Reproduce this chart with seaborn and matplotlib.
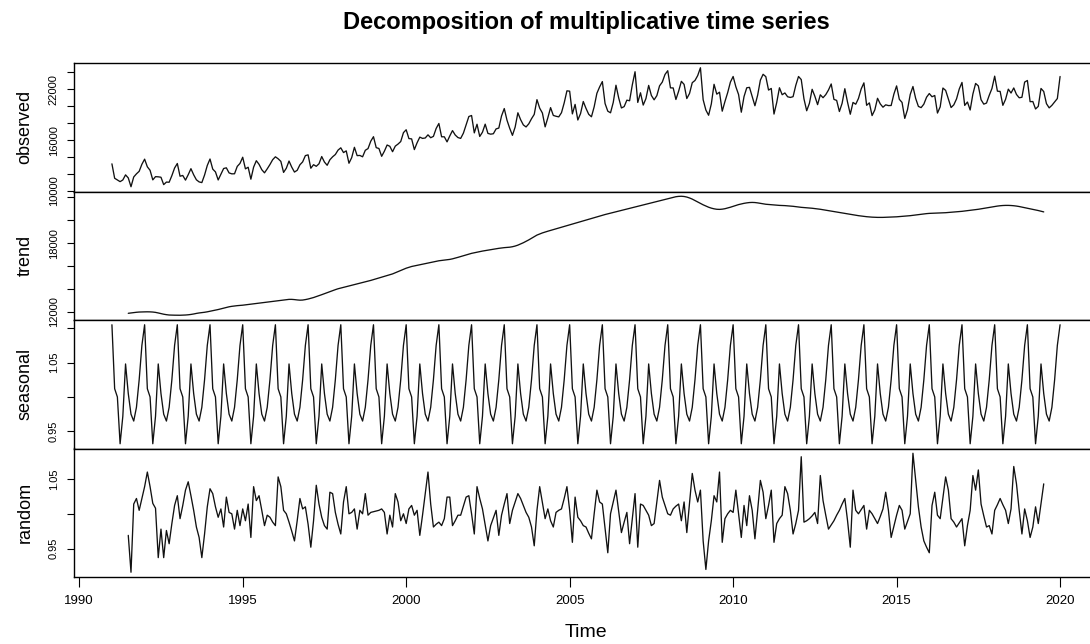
import numpy as np
import pandas as pd
import matplotlib
matplotlib.use("Agg")
import matplotlib.pyplot as plt
import seaborn as sns

# ---------------- data (monthly) ----------------
series_start = 1991.0          # observed / seasonal start (Jan 1991)
trend_start = 1991.5           # trend / random start (Jul 1991)

observed = [
    13200, 11500, 11300, 11100, 11300, 11900, 11540, 10500, 11650, 12020, 12320, 13150,  # 1991
    13750, 12850, 12440, 11310, 11690, 11670, 11620, 10750, 11050, 11030, 11810, 12710,  # 1992
    13240, 11740, 11830, 11280, 11920, 12630, 11910, 11320, 11070, 10990, 11880, 13010,  # 1993
    13770, 12580, 12250, 11300, 11980, 12650, 12730, 12130, 12020, 12030, 12900, 13250,  # 1994
    13980, 12610, 12800, 11390, 12810, 13570, 13140, 12510, 12140, 12610, 13120, 13690,  # 1995
    14030, 13800, 13490, 12190, 12680, 13530, 12810, 12230, 12440, 13090, 13430, 14170,  # 1996
    14260, 12680, 13100, 12910, 13210, 14060, 13410, 13030, 13680, 14030, 14300, 14820,  # 1997
    15090, 14530, 14730, 13270, 13930, 15150, 14170, 14190, 14030, 14800, 15000, 15870,  # 1998
    16400, 15110, 15010, 14090, 14690, 15420, 15270, 14630, 15290, 15530, 15830, 16880,  # 1999
    17220, 16180, 16140, 14880, 15680, 16350, 16200, 16250, 16620, 16280, 16440, 17370,  # 2000
    17960, 16390, 16390, 15790, 16490, 17120, 16600, 16300, 16200, 16820, 17800, 18780,  # 2001
    18900, 16850, 17870, 16430, 16930, 17880, 16790, 16700, 16750, 17320, 17420, 18850,  # 2002
    19720, 18350, 17390, 16560, 17540, 19220, 18410, 17790, 17550, 17920, 18520, 19030,  # 2003
    20770, 19770, 19190, 17560, 18640, 19830, 18910, 18810, 18740, 19230, 20390, 21810,  # 2004
    21770, 19090, 20210, 18370, 19130, 20550, 19740, 19040, 18750, 19930, 21520, 22270,  # 2005
    22900, 20310, 19410, 19220, 20440, 22470, 20970, 19790, 19950, 20710, 20640, 22520,  # 2006
    24060, 20440, 21580, 20130, 20900, 22450, 21260, 20750, 21240, 22400, 22840, 23740,  # 2007
    24180, 22160, 22150, 20790, 21770, 22930, 22570, 20900, 21500, 22770, 23030, 23610,  # 2008
    24530, 20760, 19540, 18930, 20270, 22580, 21420, 21650, 19410, 20550, 21600, 22840,  # 2009
    23500, 22290, 21370, 19290, 21130, 22170, 22220, 21130, 20050, 21300, 23070, 23760,  # 2010
    23480, 21900, 22090, 19070, 20430, 22170, 21350, 21560, 21110, 21030, 21120, 22460,  # 2011
    23500, 23140, 20860, 19460, 20340, 21990, 21170, 20180, 21340, 21000, 21360, 21910,  # 2012
    22620, 20800, 20680, 19370, 20340, 22060, 20460, 19050, 20440, 20230, 20910, 22030,  # 2013
    22750, 20100, 20390, 18890, 19560, 20930, 20270, 19880, 20160, 20070, 20080, 21420,  # 2014
    22390, 20810, 20440, 18560, 19590, 21380, 22320, 20910, 19970, 19830, 20240, 21060,  # 2015
    21490, 21110, 21260, 19190, 19920, 22140, 21860, 20850, 19840, 20160, 20860, 22030,  # 2016
    22800, 20090, 20490, 19550, 21430, 22680, 22390, 20760, 20240, 20370, 21280, 22090,  # 2017
    23540, 21770, 21740, 20100, 20810, 22010, 21550, 22150, 21380, 20990, 21050, 22840,  # 2018
    23030, 20530, 20550, 19670, 19980, 22090, 21730, 20300, 19800, 20100, 20500, 20900,  # 2019
    23500,                                                                              # 2020
]

trend = [
    11850, 11880, 11910, 11940, 11960, 11970,                                             # 1991 Jul-Dec
    11975, 11980, 11975, 11960, 11930, 11880, 11820, 11770, 11730, 11700, 11690, 11685,  # 1992
    11680, 11680, 11690, 11700, 11720, 11750, 11790, 11840, 11880, 11910, 11940, 11980,  # 1993
    12030, 12080, 12130, 12180, 12240, 12300, 12370, 12420, 12460, 12490, 12520, 12540,  # 1994
    12560, 12590, 12620, 12650, 12680, 12710, 12740, 12770, 12800, 12830, 12860, 12890,  # 1995
    12920, 12950, 12980, 13010, 13040, 13070, 13070, 13050, 13020, 13000, 13010, 13050,  # 1996
    13100, 13160, 13230, 13310, 13400, 13480, 13570, 13660, 13750, 13840, 13920, 14000,  # 1997
    14060, 14120, 14180, 14240, 14300, 14360, 14420, 14480, 14540, 14600, 14660, 14730,  # 1998
    14800, 14870, 14940, 15010, 15080, 15150, 15220, 15300, 15400, 15500, 15600, 15700,  # 1999
    15800, 15880, 15950, 16000, 16050, 16100, 16150, 16200, 16250, 16300, 16350, 16400,  # 2000
    16450, 16480, 16510, 16540, 16570, 16620, 16680, 16750, 16820, 16890, 16960, 17030,  # 2001
    17100, 17150, 17200, 17250, 17300, 17340, 17380, 17420, 17460, 17500, 17540, 17570,  # 2002
    17600, 17620, 17640, 17680, 17740, 17820, 17920, 18030, 18150, 18280, 18420, 18560,  # 2003
    18700, 18800, 18890, 18970, 19040, 19110, 19180, 19250, 19320, 19390, 19460, 19530,  # 2004
    19600, 19670, 19740, 19810, 19880, 19950, 20020, 20090, 20160, 20230, 20300, 20370,  # 2005
    20440, 20500, 20560, 20620, 20680, 20740, 20800, 20860, 20920, 20980, 21040, 21100,  # 2006
    21160, 21220, 21280, 21340, 21400, 21460, 21520, 21580, 21640, 21700, 21760, 21820,  # 2007
    21880, 21940, 22000, 22060, 22090, 22100, 22080, 22030, 21950, 21850, 21730, 21600,  # 2008
    21470, 21350, 21240, 21140, 21060, 21000, 20960, 20950, 20970, 21010, 21070, 21140,  # 2009
    21220, 21300, 21370, 21430, 21480, 21520, 21550, 21560, 21550, 21520, 21480, 21440,  # 2010
    21400, 21380, 21360, 21340, 21320, 21300, 21290, 21280, 21260, 21240, 21220, 21190,  # 2011
    21160, 21130, 21110, 21090, 21070, 21050, 21020, 20990, 20960, 20920, 20880, 20840,  # 2012
    20800, 20760, 20720, 20680, 20640, 20600, 20560, 20520, 20480, 20440, 20400, 20370,  # 2013
    20340, 20310, 20290, 20270, 20260, 20250, 20250, 20250, 20260, 20270, 20280, 20290,  # 2014
    20300, 20320, 20340, 20360, 20380, 20400, 20430, 20460, 20490, 20520, 20550, 20580,  # 2015
    20600, 20610, 20620, 20630, 20640, 20650, 20660, 20680, 20700, 20720, 20740, 20760,  # 2016
    20780, 20810, 20840, 20870, 20900, 20930, 20960, 21000, 21040, 21080, 21120, 21160,  # 2017
    21200, 21240, 21270, 21290, 21300, 21300, 21290, 21270, 21240, 21200, 21150, 21100,  # 2018
    21050, 21000, 20950, 20900, 20850, 20790, 20730,                                      # 2019 Jan-Jul
]

# seasonal figure, Jan..Dec (the seasonal component repeats it every year)
seasonal_figure = [1.105, 1.012, 1.000, 0.932, 0.972, 1.048,
                   1.005, 0.975, 0.965, 0.985, 1.025, 1.075]

random_comp = [
    0.969, 0.916, 1.014, 1.022, 1.005, 1.022,                                             # 1991 Jul-Dec
    1.039, 1.060, 1.039, 1.015, 1.008, 0.937, 0.978, 0.937, 0.976, 0.957, 0.986, 1.012,  # 1992
    1.026, 0.993, 1.012, 1.034, 1.046, 1.026, 1.005, 0.981, 0.966, 0.937, 0.971, 1.010,  # 1993
    1.036, 1.029, 1.010, 0.995, 1.007, 0.981, 1.024, 1.002, 1.000, 0.978, 1.005, 0.983,  # 1994
    1.007, 0.990, 1.014, 0.966, 1.039, 1.019, 1.026, 1.005, 0.983, 0.998, 0.995, 0.988,  # 1995
    0.983, 1.053, 1.039, 1.005, 1.000, 0.988, 0.975, 0.961, 0.990, 1.022, 1.007, 1.010,  # 1996
    0.985, 0.952, 0.990, 1.041, 1.014, 0.995, 0.983, 0.978, 1.031, 1.029, 1.002, 0.985,  # 1997
    0.971, 1.017, 1.039, 1.000, 1.002, 1.007, 0.978, 1.005, 1.000, 1.029, 0.998, 1.002,  # 1998
    1.003, 1.004, 1.005, 1.007, 1.002, 0.971, 0.998, 0.981, 1.029, 1.017, 0.990, 1.000,  # 1999
    0.986, 1.007, 1.012, 0.998, 1.005, 0.969, 0.998, 1.029, 1.060, 1.014, 0.981, 0.985,  # 2000
    0.988, 0.983, 0.993, 1.024, 1.024, 0.983, 0.990, 0.998, 0.998, 1.011, 1.024, 1.026,  # 2001
    1.000, 0.971, 1.039, 1.022, 1.007, 0.984, 0.961, 0.983, 0.994, 1.005, 0.969, 0.998,  # 2002
    1.014, 1.029, 0.986, 1.005, 1.017, 1.029, 1.022, 1.012, 1.002, 0.995, 0.981, 0.954,  # 2003
    1.005, 1.039, 1.016, 0.993, 1.007, 0.990, 0.981, 1.002, 1.005, 1.007, 1.022, 1.039,  # 2004
    1.005, 0.959, 1.024, 0.995, 0.990, 0.983, 0.981, 0.972, 0.964, 1.000, 1.034, 1.017,  # 2005
    1.014, 0.979, 0.944, 1.000, 1.017, 1.034, 1.003, 0.973, 0.988, 1.002, 0.957, 0.993,  # 2006
    1.029, 0.952, 1.014, 1.012, 1.005, 0.998, 0.983, 0.986, 1.017, 1.048, 1.024, 1.012,  # 2007
    1.000, 0.998, 1.007, 1.011, 1.014, 0.990, 1.017, 0.973, 1.015, 1.058, 1.034, 1.017,  # 2008
    1.034, 0.961, 0.920, 0.961, 0.990, 1.026, 1.017, 1.060, 0.959, 0.993, 1.000, 1.005,  # 2009
    1.002, 1.034, 1.000, 0.966, 1.012, 0.983, 1.026, 1.005, 0.964, 1.005, 1.048, 1.031,  # 2010
    0.993, 1.012, 1.034, 0.959, 0.986, 0.993, 0.998, 1.039, 1.029, 1.005, 0.971, 0.986,  # 2011
    1.005, 1.082, 0.988, 0.990, 0.993, 0.997, 1.002, 0.986, 1.055, 1.019, 0.998, 0.978,  # 2012
    0.984, 0.990, 0.998, 1.005, 1.014, 1.022, 0.990, 0.952, 1.034, 1.005, 1.000, 1.006,  # 2013
    1.012, 0.978, 1.005, 1.000, 0.993, 0.986, 0.996, 1.007, 1.031, 1.005, 0.966, 0.982,  # 2014
    0.998, 1.012, 1.005, 0.978, 0.989, 1.000, 1.087, 1.048, 1.010, 0.981, 0.961, 0.952,  # 2015
    0.944, 1.012, 1.031, 0.998, 0.993, 1.023, 1.053, 1.034, 0.993, 0.988, 0.981, 0.987,  # 2016
    0.993, 0.954, 0.983, 1.005, 1.055, 1.034, 1.063, 1.014, 0.997, 0.981, 0.983, 0.971,  # 2017
    1.005, 1.013, 1.022, 1.013, 1.005, 0.986, 1.007, 1.068, 1.043, 1.005, 0.971, 1.007,  # 2018
    0.990, 0.966, 0.981, 1.010, 0.986, 1.014, 1.043,                                      # 2019 Jan-Jul
]

panel_names = ["observed", "trend", "seasonal", "random"]
obs_ticks = [10000, 12000, 14000, 16000, 18000, 20000, 22000, 24000]
obs_labels = ["10000", "", "", "16000", "", "", "22000", ""]
trend_ticks = [12000, 14000, 16000, 18000, 20000, 22000]
trend_labels = ["12000", "", "", "18000", "", ""]
seas_ticks = [0.95, 1.00, 1.05, 1.10]
seas_labels = ["0.95", "", "1.05", ""]
rand_ticks = [0.95, 1.00, 1.05]
rand_labels = ["0.95", "", "1.05"]
year_ticks = [1990, 1995, 2000, 2005, 2010, 2015, 2020]
title_text = "Decomposition of multiplicative time series"
x_title = "Time"

# ---------------- frames ----------------
t_obs = series_start + np.arange(len(observed)) / 12.0
t_mid = trend_start + np.arange(len(trend)) / 12.0
seasonal = np.tile(seasonal_figure, len(observed) // 12 + 1)[:len(observed)]

frames = [
    pd.DataFrame({"Time": t_obs, "value": observed}),
    pd.DataFrame({"Time": t_mid, "value": trend}),
    pd.DataFrame({"Time": t_obs, "value": seasonal}),
    pd.DataFrame({"Time": t_mid, "value": random_comp}),
]
tick_sets = [(obs_ticks, obs_labels), (trend_ticks, trend_labels),
             (seas_ticks, seas_labels), (rand_ticks, rand_labels)]

# ---------------- style ----------------
sns.set_style("ticks")
plt.rcParams["font.family"] = ["Liberation Sans", "DejaVu Sans"]

W, H = 1090, 644
fig = plt.figure(figsize=(W / 100, H / 100), dpi=100)
fig.patch.set_facecolor("white")

left_px, right_px = 74, 1098
top_px, bottom_px = 63, 577
ph = (bottom_px - top_px) / 4.0

for i, (name, df, (ticks, labels)) in enumerate(zip(panel_names, frames, tick_sets)):
    y0 = 1 - (top_px + (i + 1) * ph) / H
    ax = fig.add_axes([left_px / W, y0, (right_px - left_px) / W, ph / H])
    sns.lineplot(data=df, x="Time", y="value", ax=ax, color="#111111",
                 linewidth=0.95, estimator=None)
    lo, hi = float(np.min(df["value"])), float(np.max(df["value"]))
    pad = 0.04 * (hi - lo)
    ax.set_ylim(lo - pad, hi + pad)
    ax.set_xlim(1989.84, 2021.16)
    ax.set_yticks(ticks)
    ax.set_yticklabels(labels, fontsize=8, rotation=90, va="center")
    ax.tick_params(axis="y", direction="out", length=5, width=0.8,
                   colors="black", pad=6)
    for sp in ax.spines.values():
        sp.set_color("black")
        sp.set_linewidth(1.0)
        sp.set_visible(True)
    ax.set_ylabel(name, fontsize=13, color="black")
    ax.yaxis.set_label_coords(-0.048, 0.5)
    ax.yaxis.label.set_va("center")
    if i < 3:
        ax.set_xticks([])
        ax.set_xlabel("")
    else:
        ax.set_xticks(year_ticks)
        ax.set_xticklabels([str(y) for y in year_ticks], fontsize=9.5)
        ax.tick_params(axis="x", direction="out", length=7, width=0.8,
                       colors="black", pad=6)
        ax.set_xlabel(x_title, fontsize=14, color="black")
        ax.xaxis.set_label_coords(0.5, -0.43)
        ax.xaxis.label.set_va("center")

fig.text((left_px + right_px) / 2 / W, 1 - 22 / H, title_text,
         ha="center", va="center", fontsize=17, fontweight="bold", color="black")

fig.savefig("out.png", dpi=100, facecolor="white")
